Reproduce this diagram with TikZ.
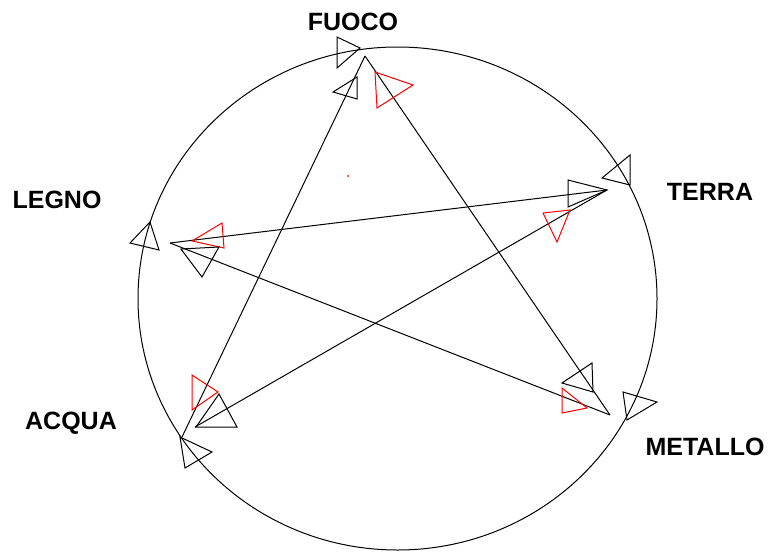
\documentclass[tikz,border=0pt]{standalone}
\usepackage{fontspec}
\setmainfont{Liberation Sans}
\usetikzlibrary{positioning}
\begin{document}
\begin{tikzpicture}[x=1pt,y=-1pt,line width=1pt,
  lbl/.style={font=\bfseries\fontsize{25}{25}\selectfont,inner sep=0pt},
  tri/.style={draw=black,line width=1pt},
  redtri/.style={draw=red,line width=1pt}]
\useasboundingbox (0,0) rectangle (768,554);
\draw (397.5,298.5) ellipse [x radius=259.5, y radius=251.5];
% labels
\node[lbl] (lfuoco) at (353,22) {FUOCO};
\node[lbl] (lterra) at (710,192) {TERRA};
\node[lbl] (llegno) at (57,200) {LEGNO};
\node[lbl] (lacqua) at (71,423) {ACQUA};
\node[lbl] (lmetallo) at (705,447) {METALLO};
% star
\coordinate (fuoco) at (365,56);
\coordinate (terra) at (607,190);
\coordinate (metallo) at (610,415);
\coordinate (legno) at (170,243);
\coordinate (acqua) at (182,437);
\coordinate (acquab) at (195,427);
\draw (fuoco)--(acqua);
\draw (fuoco)--(metallo);
\draw (legno)--(metallo);
\draw (legno)--(terra);
\draw (acquab)--(terra);
% triangles
\draw[tri] (337,37)--(337,68)--(360,48)--cycle;
\draw[tri] (333,92)--(357,77)--(357,99)--cycle;
\draw[redtri] (375,72)--(377,108)--(413,85)--cycle;
\draw[tri] (630,155)--(630,185)--(602,178)--cycle;
\draw[tri] (568,180)--(568,207)--(607,190)--cycle;
\draw[redtri] (543,213)--(570,210)--(557,242)--cycle;
\draw[tri] (150,222)--(130,243)--(159,250)--cycle;
\draw[redtri] (222,223)--(192,241)--(224,248)--cycle;
\draw[tri] (181,249)--(202,277)--(219,247)--cycle;
\draw[redtri] (192,375)--(192,410)--(218,392)--cycle;
\draw[tri] (196,427)--(219,394)--(237,427)--cycle;
\draw[tri] (180,437)--(185,468)--(212,452)--cycle;
\draw[tri] (592,363)--(593,392)--(562,383)--cycle;
\draw[redtri] (562,388)--(562,413)--(587,408)--cycle;
\draw[tri] (623,392)--(627,420)--(657,402)--cycle;
\fill[red] (348,176) circle (1);
\end{tikzpicture}
\end{document}
